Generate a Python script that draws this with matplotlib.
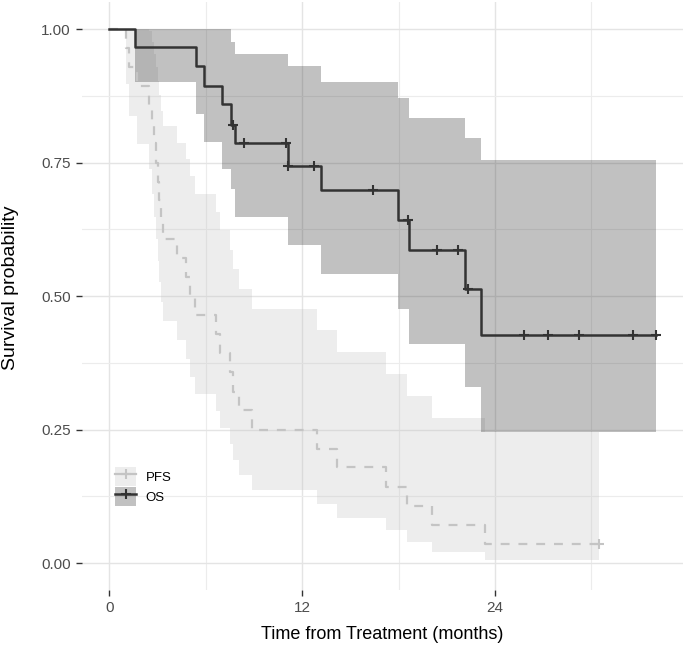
import numpy as np
import matplotlib
matplotlib.use('Agg')
import matplotlib.pyplot as plt
from matplotlib.patches import Patch
from matplotlib.lines import Line2D
from matplotlib.legend_handler import HandlerTuple

# Overall survival (Kaplan-Meier steps)
os_time = [0, 1.62, 5.42, 5.87, 7.04, 7.57, 7.81, 11.11, 13.20, 17.94, 18.62, 22.11, 23.11, 34.0]
os_surv = [1.0, 0.967, 0.931, 0.894, 0.860, 0.820, 0.787, 0.743, 0.698, 0.643, 0.586, 0.513, 0.427, 0.427]
os_upper = [1.0, 1.0, 1.0, 1.0, 1.0, 0.976, 0.954, 0.930, 0.901, 0.870, 0.833, 0.795, 0.754, 0.754]
os_lower = [1.0, 0.901, 0.840, 0.788, 0.738, 0.700, 0.648, 0.596, 0.542, 0.475, 0.411, 0.329, 0.245, 0.245]
os_censor = [7.67, 8.38, 10.99, 11.15, 12.72, 16.43, 18.56, 20.4, 21.7, 22.32, 25.8, 27.3, 29.25, 32.6, 34.0]

# Progression-free survival
pfs_time = [0, 1.03, 1.25, 1.7, 2.48, 2.63, 2.8, 2.9, 3.0, 3.1, 3.24, 3.35, 4.22, 4.8, 5.05,
            5.32, 6.63, 6.88, 7.5, 7.67, 8.1, 8.85, 12.95, 14.15, 17.2, 18.5, 20.1, 23.4, 30.5]
pfs_surv = [1.0, 0.964, 0.929, 0.893, 0.857, 0.821, 0.786, 0.750, 0.714, 0.679, 0.643, 0.607, 0.571, 0.536, 0.500,
            0.464, 0.429, 0.393, 0.357, 0.321, 0.286, 0.250, 0.214, 0.179, 0.143, 0.107, 0.071, 0.036, 0.036]
pfs_upper = [1.0, 1.0, 1.0, 1.0, 0.997, 0.976, 0.954, 0.929, 0.903, 0.876, 0.847, 0.818, 0.787, 0.756, 0.725,
             0.691, 0.657, 0.623, 0.587, 0.550, 0.513, 0.475, 0.436, 0.396, 0.354, 0.312, 0.272, 0.245, 0.245]
pfs_lower = [1.0, 0.897, 0.837, 0.785, 0.737, 0.691, 0.648, 0.606, 0.566, 0.527, 0.489, 0.453, 0.417, 0.383, 0.349,
             0.316, 0.284, 0.253, 0.223, 0.193, 0.165, 0.137, 0.110, 0.085, 0.062, 0.040, 0.021, 0.006, 0.006]
pfs_censor = [30.5]

x_ticks = [0, 12, 24]
y_ticks = [0.0, 0.25, 0.5, 0.75, 1.0]
y_ticklabels = ['0.00', '0.25', '0.50', '0.75', '1.00']

plt.rcParams['font.family'] = ['Liberation Sans', 'DejaVu Sans']

PFS_COL = '#c4c4c4'
OS_COL = '#333333'


def step_at(times, surv, t):
    idx = np.searchsorted(times, t, side='right') - 1
    return np.asarray(surv)[idx]


fig = plt.figure(figsize=(6.85, 6.45), dpi=100)
ax = fig.add_axes([0.1197, 0.0857, 0.8774, 0.9107])

# confidence bands
ax.fill_between(pfs_time, pfs_lower, pfs_upper, step='post', color=PFS_COL, alpha=0.3, lw=0)
ax.fill_between(os_time, os_lower, os_upper, step='post', color=OS_COL, alpha=0.3, lw=0)

# curves
ax.step(pfs_time, pfs_surv, where='post', color=PFS_COL, lw=1.6, ls=(0, (4, 4)))
ax.step(os_time, os_surv, where='post', color=OS_COL, lw=1.8)

ax.plot(pfs_censor, step_at(pfs_time, pfs_surv, pfs_censor), ls='none', marker='+',
        ms=7, mew=1.5, color=PFS_COL)
ax.plot(os_censor, step_at(os_time, os_surv, os_censor), ls='none', marker='+',
        ms=7, mew=1.5, color=OS_COL)

ax.set_xlim(-1.7, 35.7)
ax.set_ylim(-0.05, 1.05)
ax.set_xticks(x_ticks)
ax.set_xticks([6, 18, 30], minor=True)
ax.set_yticks(y_ticks)
ax.set_yticklabels(y_ticklabels)
ax.set_yticks([0.125, 0.375, 0.625, 0.875], minor=True)

ax.grid(True, which='major', color='#e4e4e4', lw=1.0)
ax.grid(True, which='minor', color='#ececec', lw=0.8)
ax.set_axisbelow(True)
for s in ax.spines.values():
    s.set_visible(False)
ax.tick_params(which='major', length=4, width=1, color='#333333', labelcolor='#4d4d4d',
               labelsize=11, pad=4)
ax.tick_params(which='minor', length=0)

ax.set_xlabel('Time from Treatment (months)', fontsize=13, labelpad=8)
ax.set_ylabel('Survival probability', fontsize=14)
ax.yaxis.set_label_coords(-0.105, 0.514)

h_pfs = (Patch(facecolor=PFS_COL, alpha=0.3, lw=0),
         Line2D([], [], color=PFS_COL, lw=1.6, marker='+', ms=7, mew=1.5))
h_os = (Patch(facecolor=OS_COL, alpha=0.3, lw=0),
        Line2D([], [], color=OS_COL, lw=1.8, marker='+', ms=7, mew=1.5))
ax.legend([h_pfs, h_os], ['PFS', 'OS'], handler_map={tuple: HandlerTuple(ndivide=1)},
          loc='lower left', bbox_to_anchor=(0.055, 0.142), frameon=False, fontsize=9.5,
          handlelength=1.6, handleheight=1.9, labelspacing=0.05, handletextpad=0.7,
          borderaxespad=0, borderpad=0)

fig.savefig('out.png', dpi=100)
